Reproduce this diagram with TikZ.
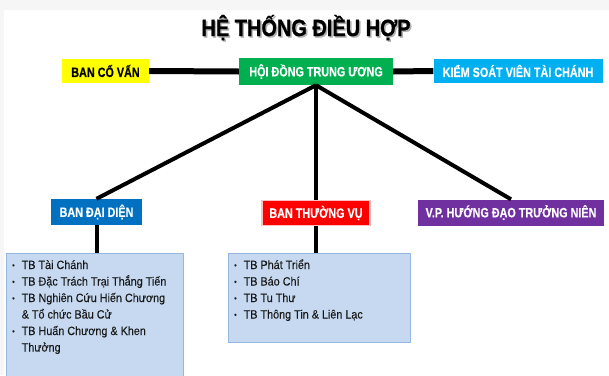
\documentclass[tikz,border=0pt]{standalone}
\usepackage{fontspec}
\setmainfont{Liberation Sans}
\newfontfamily\headfont{Liberation Sans}[FakeStretch=0.8, FakeBold=0.4]
\newfontfamily\titlefont{Liberation Sans}[FakeStretch=0.85, FakeBold=0.8]
\newfontfamily\itemfont{Liberation Sans}[FakeStretch=0.9, FakeBold=0.15]
\definecolor{hyellow}{HTML}{FFFF00}
\definecolor{hgreen}{HTML}{00B050}
\definecolor{hcyan}{HTML}{00B0F0}
\definecolor{hblue}{HTML}{0070C0}
\definecolor{hred}{HTML}{FF0000}
\definecolor{hpurple}{HTML}{7030A0}
\definecolor{listfill}{HTML}{C6D9F1}
\definecolor{listedge}{HTML}{95B8E3}
\newcommand{\bul}{{\fontsize{8}{8}\selectfont\raisebox{1pt}{•}}}

\begin{document}
\begin{tikzpicture}[x=1pt, y=-1pt,
	hbox/.style={rectangle, inner sep=0pt, text=white, font=\headfont\bfseries\fontsize{13.5}{14}\selectfont},
	listbox/.style={rectangle, draw=listedge, line width=1.2pt, fill=listfill, inner sep=0pt, anchor=north west},
	items/.style={anchor=base west, inner sep=0pt, text=black!90, font=\itemfont\fontsize{12}{16.5}\selectfont},
	bigline/.style={line width=6pt},
	midline/.style={line width=4pt}]
	\useasboundingbox (0,0) rectangle (609,375);
	\fill[gray!7] (0,0) rectangle (609,375);
	\fill[white] (4,10) rectangle (609,375);
	% title
	\node[anchor=base, text=gray!60, font=\titlefont\bfseries\fontsize{23.5}{24}\selectfont] (titleshadow) at (307.5,37.5) {HỆ THỐNG ĐIỀU HỢP};
	\node[anchor=base, text=black, font=\titlefont\bfseries\fontsize{23.5}{24}\selectfont] (title) at (306,36) {HỆ THỐNG ĐIỀU HỢP};
	% top row
	\node[hbox, fill=hyellow, text=black, minimum width=87, minimum height=24] (covan) at (105.5,71) {BAN CỐ VẤN};
	\node[hbox, fill=hgreen, minimum width=154, minimum height=27] (hoidong) at (316,71.5) {HỘI ĐỒNG TRUNG ƯƠNG};
	\node[hbox, fill=hcyan, minimum width=169, minimum height=24] (kiemsoat) at (518,71) {KIỂM SOÁT VIÊN TÀI CHÁNH};
	\draw[bigline] (covan.east) -- (hoidong.west);
	\draw[bigline] (hoidong.east) -- (kiemsoat.west);
	% second row
	\node[hbox, fill=hblue, minimum width=91, minimum height=26] (daidien) at (96.5,212) {BAN ĐẠI DIỆN};
	\node[hbox, fill=hred, draw=hred!25, line width=1.5pt, minimum width=108, minimum height=25] (thuongvu) at (316,213) {BAN THƯỜNG VỤ};
	\node[hbox, fill=hpurple, minimum width=186, minimum height=26] (huongdao) at (511,212.5) {V.P. HƯỚNG ĐẠO TRƯỞNG NIÊN};
	\draw[midline] (hoidong.south) -- (daidien.north);
	\draw[midline] (hoidong.south) -- (thuongvu.north);
	\draw[midline] (hoidong.south) -- (huongdao.north);
	% lists
	\node[listbox, minimum width=177, minimum height=128] (dailist) at (6,253) {};
	\node[listbox, minimum width=182, minimum height=89] (thuonglist) at (228,253) {};
	\draw[midline] (daidien.south) -- (daidien.south |- dailist.north);
	\draw[midline] (thuongvu.south) -- (thuongvu.south |- thuonglist.north);
	\node[items] (daiitems) at (12,269) {\begin{tabular}[t]{@{}l@{\hspace{7pt}}l@{}}
		\bul & TB Tài Chánh\\
		\bul & TB Đặc Trách Trại Thắng Tiến\\
		\bul & TB Nghiên Cứu Hiến Chương\\
		     & \& Tổ chức Bầu Cử\\
		\bul & TB Huấn Chương \& Khen\\
		     & Thưởng
	\end{tabular}};
	\node[items] (thuongitems) at (234,269) {\begin{tabular}[t]{@{}l@{\hspace{7pt}}l@{}}
		\bul & TB Phát Triển\\
		\bul & TB Báo Chí\\
		\bul & TB Tu Thư\\
		\bul & TB Thông Tin \& Liên Lạc
	\end{tabular}};
\end{tikzpicture}
\end{document}
